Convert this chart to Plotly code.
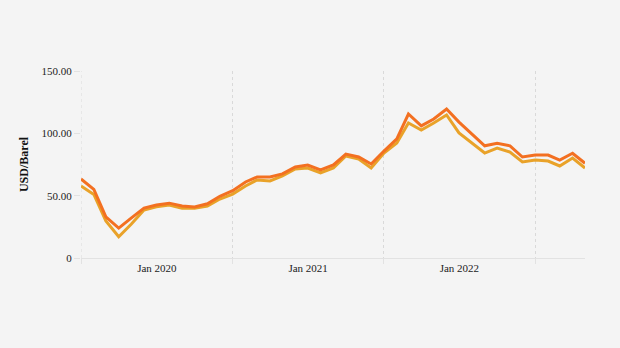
import plotly.graph_objects as go
import pandas as pd

months = pd.date_range("2020-01-01", "2023-05-01", freq="MS")

brent = [63.4, 55.0, 33.0, 24.0, 32.0, 40.0, 42.5, 44.0, 41.7, 41.0, 43.5, 49.5,
         54.0, 61.0, 65.0, 65.0, 67.5, 73.0, 74.6, 70.6, 74.6, 83.4, 81.0, 75.4,
         85.8, 95.5, 115.5, 106.0, 111.5, 119.5, 109.0, 99.5, 90.0, 92.0, 90.0, 81.0,
         82.6, 82.6, 78.6, 84.0, 76.0]
wti = [57.8, 51.0, 29.7, 17.0, 27.0, 38.5, 41.0, 42.5, 40.0, 40.0, 41.7, 47.3,
       51.3, 57.8, 62.6, 61.8, 65.8, 71.4, 72.2, 68.2, 72.2, 81.8, 79.4, 72.2,
       84.2, 92.2, 108.3, 102.7, 108.3, 114.7, 100.3, 92.2, 84.2, 88.2, 85.0, 77.0,
       78.6, 77.8, 73.8, 80.2, 72.2]

ytick_vals = [0, 50, 100, 150]
ytick_text = ["0", "50.00", "100.00", "150.00"]

xlabel_vals = ["2020-07-02", "2021-07-02", "2022-07-02"]
xlabel_text = ["Jan 2020", "Jan 2021", "Jan 2022"]

fig = go.Figure()
fig.add_trace(go.Scatter(x=months, y=wti, mode="lines", name="WTI",
                         line=dict(color="#E9A229", width=3)))
fig.add_trace(go.Scatter(x=months, y=brent, mode="lines", name="Brent",
                         line=dict(color="#F37021", width=3)))

font = dict(family="Liberation Serif, Times New Roman, serif", size=11, color="#222222")

fig.update_layout(
    width=620, height=348,
    margin=dict(l=81, r=35, t=71, b=90),
    paper_bgcolor="#f4f4f4", plot_bgcolor="#f4f4f4",
    showlegend=False,
    font=font,
    xaxis=dict(
        range=[months[0], months[-1]],
        tickvals=xlabel_vals, ticktext=xlabel_text,
        ticks="", showgrid=False,
        minor=dict(tick0="2020-01-01", dtick="M12", showgrid=True,
                   gridcolor="#d9d9d9", griddash="dot", gridwidth=1,
                   ticks="outside", ticklen=5, tickcolor="#e2e2e2"),
        showline=True, linecolor="#e2e2e2", linewidth=1,
        zeroline=False, tickfont=font,
    ),
    yaxis=dict(
        range=[0, 150],
        tickvals=ytick_vals, ticktext=ytick_text,
        showgrid=False, zeroline=False, showline=False,
        ticks="outside", ticklen=6, tickcolor="#e2e2e2",
        tickfont=font,
        title=dict(text="<b>USD/Barel</b>",
                   font=dict(family="Liberation Serif, Times New Roman, serif", size=12, color="#111111"),
                   standoff=10),
    ),
    shapes=[dict(type="line", xref="x", yref="paper", x0=months[0], x1=months[0],
                 y0=0, y1=1, layer="below",
                 line=dict(color="#d9d9d9", width=1, dash="dot"))],
)

fig.write_html("out.html")
